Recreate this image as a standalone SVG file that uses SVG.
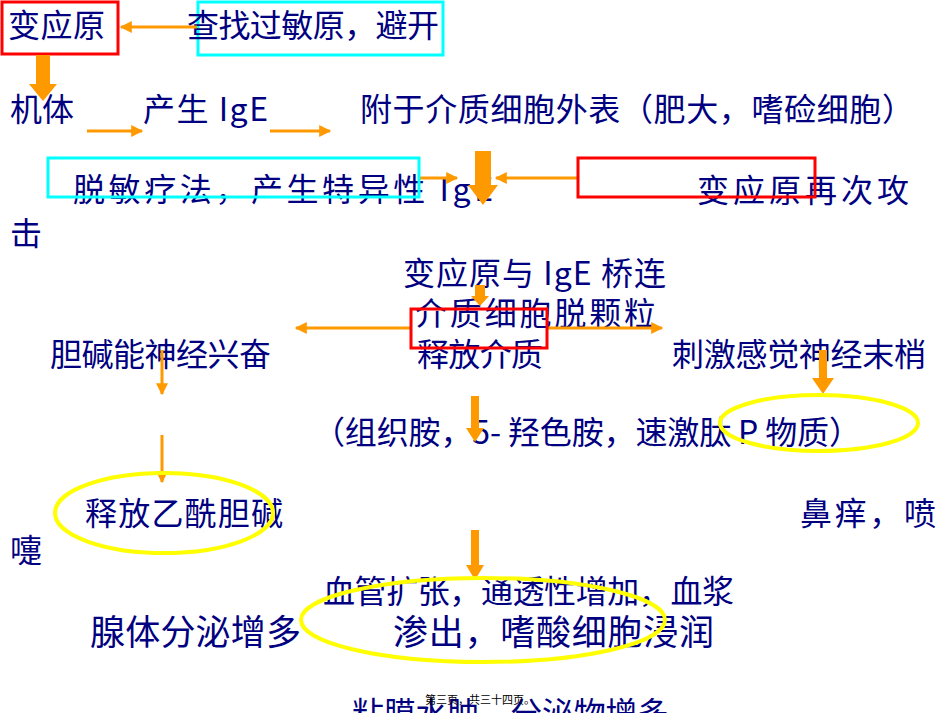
<svg xmlns="http://www.w3.org/2000/svg" width="950" height="713" viewBox="0 0 950 713">
<defs>
<style>
.t{font-family:"Noto Sans CJK SC","Liberation Sans",sans-serif;font-size:32px;fill:#000080}
.b{font-size:35px}
.f{font-family:"Noto Sans CJK SC","Liberation Sans",sans-serif;font-size:11px;fill:#000}
.thin{stroke:#F90;stroke-width:3;fill:none;marker-end:url(#ah)}
.thick{fill:#F90;stroke:none}
.red{fill:none;stroke:#F00;stroke-width:3}
.cyan{fill:none;stroke:#0FF;stroke-width:3}
.yel{fill:none;stroke:#FF0;stroke-width:4}
</style>
<marker id="ah" viewBox="0 0 10 10" refX="9" refY="5" markerWidth="6" markerHeight="4" orient="auto" markerUnits="strokeWidth">
<path d="M0,0 L10,5 L0,10 Z" fill="#F90"/>
</marker>
</defs>
<rect width="950" height="713" fill="#fff"/>

<g id="n-allergen"><rect class="red" x="2" y="2" width="116" height="52"/><text class="t" x="8" y="37" textLength="97" lengthAdjust="spacing">变应原</text></g>
<g id="n-avoid"><rect class="cyan" x="198" y="2" width="245" height="53"/><text class="t" x="187" y="37" textLength="252" lengthAdjust="spacing">查找过敏原，避开</text></g>
<g id="n-body"><text class="t" x="10" y="121" textLength="64" lengthAdjust="spacing">机体</text></g>
<g id="n-ige"><text class="t" x="143" y="121" textLength="125" lengthAdjust="spacing">产生 IgE</text></g>
<g id="n-attach"><text class="t" x="360" y="121" textLength="554" lengthAdjust="spacing">附于介质细胞外表（肥大，嗜硷细胞）</text></g>
<g id="n-desens"><text class="t" x="73" y="201" textLength="420" lengthAdjust="spacing">脱敏疗法，产生特异性 IgE</text></g>
<g id="n-again"><text class="t" x="697" y="202" textLength="212" lengthAdjust="spacing">变应原再次攻</text><text class="t" x="10" y="245">击</text></g>
<g id="n-bridge"><text class="t" x="403" y="285" textLength="263" lengthAdjust="spacing">变应原与 IgE 桥连</text></g>
<g id="n-degran"><text class="t" x="415" y="325" textLength="241" lengthAdjust="spacing">介质细胞脱颗粒</text></g>
<g id="n-release"><text class="t" x="417" y="366" textLength="126" lengthAdjust="spacing">释放介质</text></g>
<g id="n-chol"><text class="t" x="50" y="366" textLength="221" lengthAdjust="spacing">胆碱能神经兴奋</text></g>
<g id="n-sensory"><text class="t" x="672" y="366" textLength="254" lengthAdjust="spacing">刺激感觉神经末梢</text></g>
<g id="n-mediators"><text class="t" x="313" y="444" textLength="548" lengthAdjust="spacing">（组织胺，5- 羟色胺，速激肽 P 物质）</text></g>
<g id="n-ach"><text class="t" x="85" y="525" textLength="198" lengthAdjust="spacing">释放乙酰胆碱</text></g>
<g id="n-sneeze"><text class="t" x="800" y="525" textLength="136" lengthAdjust="spacing">鼻痒，喷</text><text class="t" x="10" y="562">嚏</text></g>
<g id="n-vessel"><text class="t" x="323" y="603" textLength="411" lengthAdjust="spacing">血管扩张，通透性增加，血浆</text><text class="t b" x="393" y="645" textLength="321" lengthAdjust="spacing">渗出，嗜酸细胞浸润</text></g>
<g id="n-gland"><text class="t b" x="90" y="645" textLength="211" lengthAdjust="spacing">腺体分泌增多</text></g>
<g id="n-edema"><text class="t" x="352" y="725" textLength="317" lengthAdjust="spacing">粘膜水肿，分泌物增多</text></g>

<g id="connectors">
<line class="thin" x1="197" y1="27" x2="121" y2="27"/>
<path class="thick" d="M36,55 H50 V84 H57 L43,101 L29,84 H36 Z"/>
<line class="thin" x1="87" y1="131" x2="142" y2="131"/>
<line class="thin" x1="270" y1="131" x2="330" y2="131"/>
<line class="thin" x1="420" y1="178" x2="457" y2="178"/>
<line class="thin" x1="578" y1="178" x2="496" y2="178"/>
<path class="thick" d="M475,151 H491 V185 H498 L483,205 L468,185 H475 Z"/>
<path class="thick" d="M475,285 H485 V296 H489 L480,306 L471,296 H475 Z"/>
<line class="thin" x1="410" y1="328" x2="296" y2="328"/>
<line class="thin" x1="548" y1="328" x2="662" y2="328"/>
<line class="thin" x1="162" y1="350" x2="162" y2="394"/>
<line class="thin" x1="162" y1="435" x2="162" y2="482"/>
<path class="thick" d="M819,350 H827 V378 H834 L823,394 L812,378 H819 Z"/>
<path class="thick" d="M471,396 H479 V428 H484 L475,442 L466,428 H471 Z"/>
<path class="thick" d="M471,530 H479 V565 H484 L475,580 L466,565 H471 Z"/>
</g>

<g id="highlights">
<rect class="cyan" x="48" y="158" width="371" height="39"/>
<rect class="red" x="578" y="158" width="237" height="39"/>
<rect class="red" x="411" y="309" width="136" height="39"/>
<ellipse class="yel" cx="819" cy="423" rx="99" ry="28"/>
<ellipse class="yel" cx="164" cy="513" rx="109" ry="40"/>
<ellipse class="yel" cx="483" cy="620" rx="182" ry="42"/>
</g>

<g id="footer"><text class="f" x="425" y="704">第三页，共三十四页。</text></g>
</svg>
